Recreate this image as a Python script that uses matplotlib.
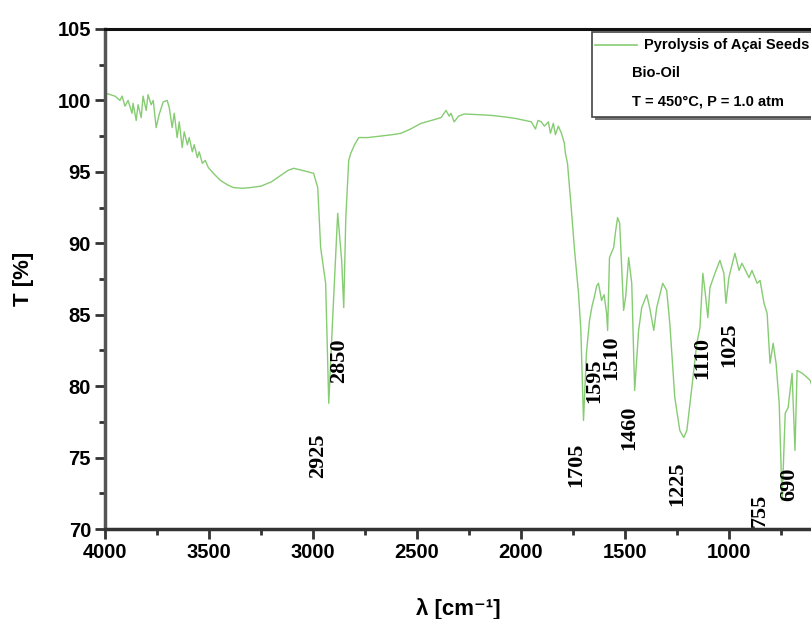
import matplotlib
matplotlib.use("Agg")
import matplotlib.pyplot as plt
from matplotlib.patches import Rectangle
from matplotlib.lines import Line2D
from matplotlib.ticker import MultipleLocator

# FTIR spectrum of the bio-oil
wavenumber = [
    4000, 3995, 3952, 3928, 3918, 3904, 3889, 3870, 3865, 3850, 3841, 3826, 3817,
    3802, 3793, 3778, 3768, 3754, 3740, 3720, 3701, 3691, 3677, 3667, 3653, 3643,
    3629, 3619, 3604, 3595, 3580, 3571, 3556, 3547, 3532, 3518, 3503, 3479, 3445,
    3412, 3383, 3340, 3300, 3250, 3200, 3150, 3120, 3093, 3050, 2997, 2977, 2963,
    2939, 2924, 2905, 2881, 2862, 2852, 2842, 2828, 2818, 2800, 2780, 2736, 2680,
    2620, 2577, 2530, 2480, 2430, 2384, 2360, 2345, 2336, 2321, 2300, 2273, 2200,
    2140, 2080, 2030, 1980, 1950, 1930, 1918, 1902, 1887, 1868, 1858, 1844, 1834,
    1820, 1805, 1791, 1786, 1776, 1766, 1757, 1742, 1723, 1712, 1699, 1685, 1670,
    1658, 1646, 1636, 1627, 1612, 1600, 1588, 1583, 1574, 1554, 1545, 1535, 1525,
    1506, 1496, 1482, 1467, 1453, 1434, 1419, 1395, 1381, 1361, 1347, 1330, 1318,
    1299, 1284, 1260, 1236, 1217, 1202, 1178, 1154, 1139, 1125, 1115, 1101, 1091,
    1067, 1043, 1024, 1014, 1000, 971, 951, 937, 903, 889, 864, 850, 831, 816, 802,
    787, 773, 758, 744, 729, 715, 696, 682, 672, 647, 623, 609, 600,
]
transmittance = [
    100.5, 100.5, 100.3, 100.0, 100.3, 99.6, 100.0, 99.1, 99.8, 98.6, 99.7, 98.8, 100.3,
    99.3, 100.4, 99.7, 100.0, 98.1, 99.0, 99.9, 100.0, 99.5, 98.1, 99.1, 97.4, 98.5,
    96.7, 97.8, 96.9, 97.4, 96.4, 96.9, 96.0, 96.4, 95.6, 95.8, 95.3, 94.9, 94.4,
    94.1, 93.9, 93.85, 93.9, 94.0, 94.3, 94.8, 95.1, 95.25, 95.1, 94.9, 93.9, 89.7,
    87.2, 78.8, 84.8, 92.1, 88.8, 85.5, 91.8, 95.8, 96.3, 96.9, 97.4, 97.4, 97.5,
    97.6, 97.7, 98.0, 98.4, 98.6, 98.8, 99.3, 98.9, 99.1, 98.5, 98.9, 99.05, 99.0,
    98.95, 98.85, 98.75, 98.6, 98.5, 98.0, 98.6, 98.5, 98.2, 98.5, 97.7, 98.4, 97.6,
    98.2, 97.7, 97.0, 96.3, 95.6, 93.9, 92.3, 89.5, 86.5, 84.0, 77.6, 82.3, 84.6,
    85.6, 86.3, 87.0, 87.2, 86.0, 86.4, 85.1, 83.9, 89.0, 89.7, 90.8, 91.8, 91.4,
    85.3, 86.3, 89.0, 87.2, 79.7, 83.9, 85.5, 86.4, 85.5, 83.9, 85.5, 86.5, 87.2,
    86.7, 84.4, 79.2, 76.9, 76.4, 76.9, 79.9, 83.0, 84.1, 87.9, 86.7, 84.8, 86.9,
    87.9, 88.8, 87.9, 85.8, 87.6, 89.3, 88.1, 88.6, 87.6, 88.1, 87.2, 87.4, 85.8, 85.1, 81.6,
    83.0, 81.6, 78.8, 72.0, 78.1, 78.5, 80.9, 75.5, 81.1, 80.9, 80.6, 80.4, 80.0,
]

# band labels: text, x position, y position (centre of the rotated label)
band_text = ["2925", "2850", "1705", "1595", "1510", "1460", "1225", "1110", "1025", "755", "690"]
band_x = [2973, 2876, 1733, 1646, 1564, 1477, 1246, 1130, 1000, 850, 710]
band_y = [75.1, 81.8, 74.5, 80.4, 82.0, 77.1, 73.15, 82.0, 82.9, 71.3, 73.1]

legend_lines = ["Pyrolysis of Açai Seeds", "Bio-Oil", "T = 450°C, P = 1.0 atm"]

line_color = "#86cc72"
sans = ["Liberation Sans", "DejaVu Sans"]

fig = plt.figure(figsize=(8.11, 6.19), dpi=100)
ax = fig.add_axes([105 / 811, 1 - 529 / 619, 1 - 105 / 811, 500 / 619])

ax.plot(wavenumber, transmittance, color=line_color, lw=1.0)

ax.set_xlim(4000, 605)
ax.set_ylim(70, 105)
ax.xaxis.set_major_locator(MultipleLocator(500))
ax.xaxis.set_minor_locator(MultipleLocator(250))
ax.yaxis.set_major_locator(MultipleLocator(5))
ax.yaxis.set_minor_locator(MultipleLocator(2.5))

ax.spines["right"].set_visible(False)
ax.spines["top"].set_linewidth(2.2)
ax.spines["top"].set_color("#111111")
ax.spines["left"].set_linewidth(2.5)
ax.spines["left"].set_color("#555555")
ax.spines["bottom"].set_linewidth(2.5)
ax.spines["bottom"].set_color("#333333")

ax.tick_params(which="both", direction="out", top=False, right=False, color="#333333")
ax.tick_params(which="major", length=7, width=2, pad=3)
ax.tick_params(which="minor", length=4, width=2)
for lab in ax.get_xticklabels() + ax.get_yticklabels():
    lab.set_family(sans)
    lab.set_fontweight("bold")
    lab.set_fontsize(14.5)

ax.set_ylabel("T [%]", family=sans, fontweight="bold", fontsize=16, labelpad=17)
ax.set_xlabel("λ [cm⁻¹]", family=sans, fontweight="bold", fontsize=16, labelpad=26)

for t, x, y in zip(band_text, band_x, band_y):
    ax.text(x, y, t, rotation=90, ha="center", va="center",
            family=["Liberation Serif", "DejaVu Serif"], fontweight="bold", fontsize=16)

# legend box, drawn by hand (it runs past the right edge of the picture)
px = lambda x, y: (x / 811, 1 - y / 619)
sx, sy = px(595, 120)
fig.patches.append(Rectangle((sx, sy), 0.4, (117 - 32) / 619, transform=fig.transFigure,
                             facecolor="#777777", edgecolor="none", zorder=5))
bx, by = px(592, 117)
fig.patches.append(Rectangle((bx, by), 0.4, (117 - 32) / 619, transform=fig.transFigure,
                             facecolor="white", edgecolor="#444444", lw=1.2, zorder=6))
l0 = px(595, 45)
l1 = px(637, 45)
fig.lines.append(Line2D([l0[0], l1[0]], [l0[1], l1[1]], transform=fig.transFigure,
                        color=line_color, lw=1.2, zorder=7))
for txt, (x, y) in zip(legend_lines, [(644, 45), (632, 73), (632, 101)]):
    fx, fy = px(x, y)
    fig.text(fx, fy, txt, ha="left", va="center", family=sans, fontweight="bold",
             fontsize=10.5, zorder=8)

fig.savefig("out.png", dpi=100)
